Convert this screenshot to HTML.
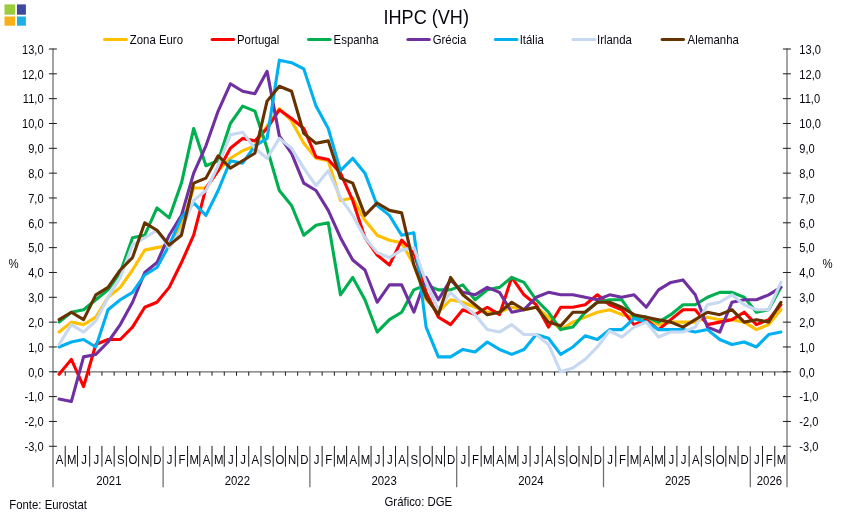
<!DOCTYPE html>
<html lang="pt"><head><meta charset="utf-8"><title>IHPC (VH)</title>
<style>
html,body{margin:0;padding:0;background:#fff;}
body{width:843px;height:518px;overflow:hidden;position:relative;font-family:"Liberation Sans",Arial,sans-serif;}
svg{position:absolute;left:0;top:0;display:block;}
text{font-family:"Liberation Sans",Arial,sans-serif;fill:#0a0610;}
.t{font-size:12px;}
.ttl{font-size:19.6px;}
.ln{fill:none;stroke-width:3.1;stroke-linejoin:round;stroke-linecap:round;}
.ax{stroke:#6e6e6e;stroke-width:1.25;fill:none;}
.tk{stroke:#1c1c1c;stroke-width:1;fill:none;}
</style></head><body>
<svg width="843" height="518" viewBox="0 0 843 518">
<rect width="843" height="518" fill="#fff"/>
<g><rect x="4.5" y="4.4" width="10.6" height="10.3" fill="#9CCB3B"/><rect x="17" y="4.4" width="8.9" height="10.3" fill="#3F48A0"/><rect x="4.5" y="16.5" width="10.6" height="9.2" fill="#F9B016"/><rect x="17" y="16.5" width="8.9" height="9.2" fill="#1EAEE8"/></g>
<text class="ttl" transform="translate(426.20 23.50) scale(0.924 1)" text-anchor="middle">IHPC (VH)</text>
<line x1="104.5" y1="39.5" x2="126.4" y2="39.5" stroke="#FFC000" stroke-width="3.1" stroke-linecap="round"/><text class="t" transform="translate(129.80 43.60) scale(0.950 1)">Zona Euro</text>
<line x1="212.2" y1="39.5" x2="233.6" y2="39.5" stroke="#FF0000" stroke-width="3.1" stroke-linecap="round"/><text class="t" transform="translate(237.00 43.60) scale(0.950 1)">Portugal</text>
<line x1="308.5" y1="39.5" x2="330.2" y2="39.5" stroke="#00B050" stroke-width="3.1" stroke-linecap="round"/><text class="t" transform="translate(333.60 43.60) scale(0.950 1)">Espanha</text>
<line x1="407.9" y1="39.5" x2="429.3" y2="39.5" stroke="#7030A0" stroke-width="3.1" stroke-linecap="round"/><text class="t" transform="translate(432.70 43.60) scale(0.950 1)">Grécia</text>
<line x1="495.4" y1="39.5" x2="516.9" y2="39.5" stroke="#00B0F0" stroke-width="3.1" stroke-linecap="round"/><text class="t" transform="translate(519.70 43.60) scale(0.950 1)">Itália</text>
<line x1="573.0" y1="39.5" x2="594.9" y2="39.5" stroke="#C6D9F1" stroke-width="3.1" stroke-linecap="round"/><text class="t" transform="translate(597.00 43.60) scale(0.950 1)">Irlanda</text>
<line x1="662.2" y1="39.5" x2="683.5" y2="39.5" stroke="#663300" stroke-width="3.1" stroke-linecap="round"/><text class="t" transform="translate(687.60 43.60) scale(0.950 1)">Alemanha</text>
<path class="ax" d="M53.00 48.5V487.2 M787.00 48.5V487.2"/>
<path class="ax" d="M53.00 371.79H787.00"/>
<text class="t" transform="translate(43.60 451.08) scale(0.925 1)" text-anchor="end">-3,0</text><text class="t" transform="translate(799.30 451.08) scale(0.925 1)">-3,0</text>
<text class="t" transform="translate(43.60 426.25) scale(0.925 1)" text-anchor="end">-2,0</text><text class="t" transform="translate(799.30 426.25) scale(0.925 1)">-2,0</text>
<text class="t" transform="translate(43.60 401.42) scale(0.925 1)" text-anchor="end">-1,0</text><text class="t" transform="translate(799.30 401.42) scale(0.925 1)">-1,0</text>
<text class="t" transform="translate(43.60 376.59) scale(0.925 1)" text-anchor="end">0,0</text><text class="t" transform="translate(799.30 376.59) scale(0.925 1)">0,0</text>
<text class="t" transform="translate(43.60 351.76) scale(0.925 1)" text-anchor="end">1,0</text><text class="t" transform="translate(799.30 351.76) scale(0.925 1)">1,0</text>
<text class="t" transform="translate(43.60 326.93) scale(0.925 1)" text-anchor="end">2,0</text><text class="t" transform="translate(799.30 326.93) scale(0.925 1)">2,0</text>
<text class="t" transform="translate(43.60 302.10) scale(0.925 1)" text-anchor="end">3,0</text><text class="t" transform="translate(799.30 302.10) scale(0.925 1)">3,0</text>
<text class="t" transform="translate(43.60 277.27) scale(0.925 1)" text-anchor="end">4,0</text><text class="t" transform="translate(799.30 277.27) scale(0.925 1)">4,0</text>
<text class="t" transform="translate(43.60 252.44) scale(0.925 1)" text-anchor="end">5,0</text><text class="t" transform="translate(799.30 252.44) scale(0.925 1)">5,0</text>
<text class="t" transform="translate(43.60 227.61) scale(0.925 1)" text-anchor="end">6,0</text><text class="t" transform="translate(799.30 227.61) scale(0.925 1)">6,0</text>
<text class="t" transform="translate(43.60 202.78) scale(0.925 1)" text-anchor="end">7,0</text><text class="t" transform="translate(799.30 202.78) scale(0.925 1)">7,0</text>
<text class="t" transform="translate(43.60 177.95) scale(0.925 1)" text-anchor="end">8,0</text><text class="t" transform="translate(799.30 177.95) scale(0.925 1)">8,0</text>
<text class="t" transform="translate(43.60 153.12) scale(0.925 1)" text-anchor="end">9,0</text><text class="t" transform="translate(799.30 153.12) scale(0.925 1)">9,0</text>
<text class="t" transform="translate(43.60 128.29) scale(0.925 1)" text-anchor="end">10,0</text><text class="t" transform="translate(799.30 128.29) scale(0.925 1)">10,0</text>
<text class="t" transform="translate(43.60 103.46) scale(0.925 1)" text-anchor="end">11,0</text><text class="t" transform="translate(799.30 103.46) scale(0.925 1)">11,0</text>
<text class="t" transform="translate(43.60 78.63) scale(0.925 1)" text-anchor="end">12,0</text><text class="t" transform="translate(799.30 78.63) scale(0.925 1)">12,0</text>
<text class="t" transform="translate(43.60 53.80) scale(0.925 1)" text-anchor="end">13,0</text><text class="t" transform="translate(799.30 53.80) scale(0.925 1)">13,0</text>
<path class="tk" d="M48.9 446.28H56.9 M782.9 446.28H790.9 M48.9 421.45H56.9 M782.9 421.45H790.9 M48.9 396.62H56.9 M782.9 396.62H790.9 M48.9 371.79H56.9 M782.9 371.79H790.9 M48.9 346.96H56.9 M782.9 346.96H790.9 M48.9 322.13H56.9 M782.9 322.13H790.9 M48.9 297.30H56.9 M782.9 297.30H790.9 M48.9 272.47H56.9 M782.9 272.47H790.9 M48.9 247.64H56.9 M782.9 247.64H790.9 M48.9 222.81H56.9 M782.9 222.81H790.9 M48.9 197.98H56.9 M782.9 197.98H790.9 M48.9 173.15H56.9 M782.9 173.15H790.9 M48.9 148.32H56.9 M782.9 148.32H790.9 M48.9 123.49H56.9 M782.9 123.49H790.9 M48.9 98.66H56.9 M782.9 98.66H790.9 M48.9 73.83H56.9 M782.9 73.83H790.9 M48.9 49.00H56.9 M782.9 49.00H790.9 M65.23 371.79v3.9 M77.47 371.79v3.9 M89.70 371.79v3.9 M101.93 371.79v3.9 M114.17 371.79v3.9 M126.40 371.79v3.9 M138.63 371.79v3.9 M150.87 371.79v3.9 M163.10 371.79v3.9 M175.33 371.79v3.9 M187.57 371.79v3.9 M199.80 371.79v3.9 M212.03 371.79v3.9 M224.27 371.79v3.9 M236.50 371.79v3.9 M248.73 371.79v3.9 M260.97 371.79v3.9 M273.20 371.79v3.9 M285.43 371.79v3.9 M297.67 371.79v3.9 M309.90 371.79v3.9 M322.13 371.79v3.9 M334.37 371.79v3.9 M346.60 371.79v3.9 M358.83 371.79v3.9 M371.07 371.79v3.9 M383.30 371.79v3.9 M395.53 371.79v3.9 M407.77 371.79v3.9 M420.00 371.79v3.9 M432.23 371.79v3.9 M444.47 371.79v3.9 M456.70 371.79v3.9 M468.93 371.79v3.9 M481.17 371.79v3.9 M493.40 371.79v3.9 M505.63 371.79v3.9 M517.87 371.79v3.9 M530.10 371.79v3.9 M542.33 371.79v3.9 M554.57 371.79v3.9 M566.80 371.79v3.9 M579.03 371.79v3.9 M591.27 371.79v3.9 M603.50 371.79v3.9 M615.73 371.79v3.9 M627.97 371.79v3.9 M640.20 371.79v3.9 M652.43 371.79v3.9 M664.67 371.79v3.9 M676.90 371.79v3.9 M689.13 371.79v3.9 M701.37 371.79v3.9 M713.60 371.79v3.9 M725.83 371.79v3.9 M738.07 371.79v3.9 M750.30 371.79v3.9 M762.53 371.79v3.9 M774.77 371.79v3.9 "/>
<path class="ax" d="M163.10 446.3V487.2 M309.90 446.3V487.2 M456.70 446.3V487.2 M603.50 446.3V487.2 M750.30 446.3V487.2 "/>
<path class="tk" d="M65.23 445.9V466.7 M77.47 445.9V466.7 M89.70 445.9V466.7 M101.93 445.9V466.7 M114.17 445.9V466.7 M126.40 445.9V466.7 M138.63 445.9V466.7 M150.87 445.9V466.7 M175.33 445.9V466.7 M187.57 445.9V466.7 M199.80 445.9V466.7 M212.03 445.9V466.7 M224.27 445.9V466.7 M236.50 445.9V466.7 M248.73 445.9V466.7 M260.97 445.9V466.7 M273.20 445.9V466.7 M285.43 445.9V466.7 M297.67 445.9V466.7 M322.13 445.9V466.7 M334.37 445.9V466.7 M346.60 445.9V466.7 M358.83 445.9V466.7 M371.07 445.9V466.7 M383.30 445.9V466.7 M395.53 445.9V466.7 M407.77 445.9V466.7 M420.00 445.9V466.7 M432.23 445.9V466.7 M444.47 445.9V466.7 M468.93 445.9V466.7 M481.17 445.9V466.7 M493.40 445.9V466.7 M505.63 445.9V466.7 M517.87 445.9V466.7 M530.10 445.9V466.7 M542.33 445.9V466.7 M554.57 445.9V466.7 M566.80 445.9V466.7 M579.03 445.9V466.7 M591.27 445.9V466.7 M615.73 445.9V466.7 M627.97 445.9V466.7 M640.20 445.9V466.7 M652.43 445.9V466.7 M664.67 445.9V466.7 M676.90 445.9V466.7 M689.13 445.9V466.7 M701.37 445.9V466.7 M713.60 445.9V466.7 M725.83 445.9V466.7 M738.07 445.9V466.7 M762.53 445.9V466.7 M774.77 445.9V466.7 "/>
<text class="t" transform="translate(59.62 463.60) scale(0.950 1)" text-anchor="middle">A</text><text class="t" transform="translate(71.85 463.60) scale(0.950 1)" text-anchor="middle">M</text><text class="t" transform="translate(84.08 463.60) scale(0.950 1)" text-anchor="middle">J</text><text class="t" transform="translate(96.32 463.60) scale(0.950 1)" text-anchor="middle">J</text><text class="t" transform="translate(108.55 463.60) scale(0.950 1)" text-anchor="middle">A</text><text class="t" transform="translate(120.78 463.60) scale(0.950 1)" text-anchor="middle">S</text><text class="t" transform="translate(133.02 463.60) scale(0.950 1)" text-anchor="middle">O</text><text class="t" transform="translate(145.25 463.60) scale(0.950 1)" text-anchor="middle">N</text><text class="t" transform="translate(157.48 463.60) scale(0.950 1)" text-anchor="middle">D</text><text class="t" transform="translate(169.72 463.60) scale(0.950 1)" text-anchor="middle">J</text><text class="t" transform="translate(181.95 463.60) scale(0.950 1)" text-anchor="middle">F</text><text class="t" transform="translate(194.18 463.60) scale(0.950 1)" text-anchor="middle">M</text><text class="t" transform="translate(206.42 463.60) scale(0.950 1)" text-anchor="middle">A</text><text class="t" transform="translate(218.65 463.60) scale(0.950 1)" text-anchor="middle">M</text><text class="t" transform="translate(230.88 463.60) scale(0.950 1)" text-anchor="middle">J</text><text class="t" transform="translate(243.12 463.60) scale(0.950 1)" text-anchor="middle">J</text><text class="t" transform="translate(255.35 463.60) scale(0.950 1)" text-anchor="middle">A</text><text class="t" transform="translate(267.58 463.60) scale(0.950 1)" text-anchor="middle">S</text><text class="t" transform="translate(279.82 463.60) scale(0.950 1)" text-anchor="middle">O</text><text class="t" transform="translate(292.05 463.60) scale(0.950 1)" text-anchor="middle">N</text><text class="t" transform="translate(304.28 463.60) scale(0.950 1)" text-anchor="middle">D</text><text class="t" transform="translate(316.52 463.60) scale(0.950 1)" text-anchor="middle">J</text><text class="t" transform="translate(328.75 463.60) scale(0.950 1)" text-anchor="middle">F</text><text class="t" transform="translate(340.98 463.60) scale(0.950 1)" text-anchor="middle">M</text><text class="t" transform="translate(353.22 463.60) scale(0.950 1)" text-anchor="middle">A</text><text class="t" transform="translate(365.45 463.60) scale(0.950 1)" text-anchor="middle">M</text><text class="t" transform="translate(377.68 463.60) scale(0.950 1)" text-anchor="middle">J</text><text class="t" transform="translate(389.92 463.60) scale(0.950 1)" text-anchor="middle">J</text><text class="t" transform="translate(402.15 463.60) scale(0.950 1)" text-anchor="middle">A</text><text class="t" transform="translate(414.38 463.60) scale(0.950 1)" text-anchor="middle">S</text><text class="t" transform="translate(426.62 463.60) scale(0.950 1)" text-anchor="middle">O</text><text class="t" transform="translate(438.85 463.60) scale(0.950 1)" text-anchor="middle">N</text><text class="t" transform="translate(451.08 463.60) scale(0.950 1)" text-anchor="middle">D</text><text class="t" transform="translate(463.32 463.60) scale(0.950 1)" text-anchor="middle">J</text><text class="t" transform="translate(475.55 463.60) scale(0.950 1)" text-anchor="middle">F</text><text class="t" transform="translate(487.78 463.60) scale(0.950 1)" text-anchor="middle">M</text><text class="t" transform="translate(500.02 463.60) scale(0.950 1)" text-anchor="middle">A</text><text class="t" transform="translate(512.25 463.60) scale(0.950 1)" text-anchor="middle">M</text><text class="t" transform="translate(524.48 463.60) scale(0.950 1)" text-anchor="middle">J</text><text class="t" transform="translate(536.72 463.60) scale(0.950 1)" text-anchor="middle">J</text><text class="t" transform="translate(548.95 463.60) scale(0.950 1)" text-anchor="middle">A</text><text class="t" transform="translate(561.18 463.60) scale(0.950 1)" text-anchor="middle">S</text><text class="t" transform="translate(573.42 463.60) scale(0.950 1)" text-anchor="middle">O</text><text class="t" transform="translate(585.65 463.60) scale(0.950 1)" text-anchor="middle">N</text><text class="t" transform="translate(597.88 463.60) scale(0.950 1)" text-anchor="middle">D</text><text class="t" transform="translate(610.12 463.60) scale(0.950 1)" text-anchor="middle">J</text><text class="t" transform="translate(622.35 463.60) scale(0.950 1)" text-anchor="middle">F</text><text class="t" transform="translate(634.58 463.60) scale(0.950 1)" text-anchor="middle">M</text><text class="t" transform="translate(646.82 463.60) scale(0.950 1)" text-anchor="middle">A</text><text class="t" transform="translate(659.05 463.60) scale(0.950 1)" text-anchor="middle">M</text><text class="t" transform="translate(671.28 463.60) scale(0.950 1)" text-anchor="middle">J</text><text class="t" transform="translate(683.52 463.60) scale(0.950 1)" text-anchor="middle">J</text><text class="t" transform="translate(695.75 463.60) scale(0.950 1)" text-anchor="middle">A</text><text class="t" transform="translate(707.98 463.60) scale(0.950 1)" text-anchor="middle">S</text><text class="t" transform="translate(720.22 463.60) scale(0.950 1)" text-anchor="middle">O</text><text class="t" transform="translate(732.45 463.60) scale(0.950 1)" text-anchor="middle">N</text><text class="t" transform="translate(744.68 463.60) scale(0.950 1)" text-anchor="middle">D</text><text class="t" transform="translate(756.92 463.60) scale(0.950 1)" text-anchor="middle">J</text><text class="t" transform="translate(769.15 463.60) scale(0.950 1)" text-anchor="middle">F</text><text class="t" transform="translate(781.38 463.60) scale(0.950 1)" text-anchor="middle">M</text>
<text class="t" transform="translate(108.85 484.90) scale(0.950 1)" text-anchor="middle">2021</text><text class="t" transform="translate(237.30 484.90) scale(0.950 1)" text-anchor="middle">2022</text><text class="t" transform="translate(384.10 484.90) scale(0.950 1)" text-anchor="middle">2023</text><text class="t" transform="translate(530.90 484.90) scale(0.950 1)" text-anchor="middle">2024</text><text class="t" transform="translate(677.70 484.90) scale(0.950 1)" text-anchor="middle">2025</text><text class="t" transform="translate(769.45 484.90) scale(0.950 1)" text-anchor="middle">2026</text>
<text class="t" transform="translate(8.60 268.00) scale(0.950 1)">%</text><text class="t" transform="translate(822.60 268.00) scale(0.950 1)">%</text>
<text class="t" transform="translate(9.20 508.80) scale(0.950 1)">Fonte: Eurostat</text><text class="t" transform="translate(384.50 505.70) scale(0.950 1)">Gráfico: DGE</text>
<polyline class="ln" stroke="#FFC000" points="59.12,332.06 71.35,322.13 83.58,324.61 95.82,317.16 108.05,297.30 120.28,287.37 132.52,269.99 144.75,250.12 156.98,247.64 169.22,245.16 181.45,225.29 193.68,188.05 205.92,188.05 218.15,170.67 230.38,158.25 242.62,150.80 254.85,145.84 267.08,125.97 279.32,108.59 291.55,121.01 303.78,143.35 316.02,158.25 328.25,160.73 340.48,200.46 352.72,197.98 364.95,220.33 377.18,235.22 389.42,240.19 401.65,242.67 413.88,265.02 426.12,299.78 438.35,312.20 450.58,299.78 462.82,302.27 475.05,307.23 487.28,312.20 499.52,312.20 511.75,307.23 523.98,309.71 536.22,307.23 548.45,317.16 560.68,329.58 572.92,322.13 585.15,317.16 597.38,312.20 609.62,309.71 621.85,314.68 634.08,317.16 646.32,317.16 658.55,324.61 670.78,322.13 683.02,322.13 695.25,322.13 707.48,317.16 719.72,319.65 731.95,319.65 744.18,322.13 756.42,329.58 768.65,324.61 780.88,309.71"/>
<polyline class="ln" stroke="#FF0000" points="59.12,374.27 71.35,359.38 83.58,386.69 95.82,344.48 108.05,339.51 120.28,339.51 132.52,327.10 144.75,307.23 156.98,302.27 169.22,287.37 181.45,262.54 193.68,235.22 205.92,188.05 218.15,170.67 230.38,148.32 242.62,138.39 254.85,140.87 267.08,128.46 279.32,109.83 291.55,118.52 303.78,128.46 316.02,157.01 328.25,159.49 340.48,173.15 352.72,200.46 364.95,237.71 377.18,255.09 389.42,265.02 401.65,240.19 413.88,252.61 426.12,292.33 438.35,317.16 450.58,324.61 462.82,309.71 475.05,314.68 487.28,307.23 499.52,314.68 511.75,277.44 523.98,294.82 536.22,304.75 548.45,327.10 560.68,307.23 572.92,307.23 585.15,304.75 597.38,294.82 609.62,304.75 621.85,309.71 634.08,324.61 646.32,319.65 658.55,329.58 670.78,319.65 683.02,309.71 695.25,309.71 707.48,324.61 719.72,322.13 731.95,319.65 744.18,312.20 756.42,324.61 768.65,319.65 780.88,304.75"/>
<polyline class="ln" stroke="#00B050" points="59.12,322.13 71.35,312.20 83.58,309.71 95.82,299.78 108.05,289.85 120.28,272.47 132.52,237.71 144.75,235.22 156.98,207.91 169.22,217.84 181.45,183.08 193.68,128.46 205.92,165.70 218.15,160.73 230.38,123.49 242.62,106.11 254.85,111.07 267.08,148.32 279.32,190.53 291.55,205.43 303.78,235.22 316.02,225.29 328.25,222.81 340.48,294.82 352.72,277.44 364.95,299.78 377.18,332.06 389.42,319.65 401.65,312.20 413.88,289.85 426.12,284.88 438.35,289.85 450.58,289.85 462.82,284.88 475.05,299.78 487.28,289.85 499.52,287.37 511.75,277.44 523.98,282.40 536.22,299.78 548.45,312.20 560.68,329.58 572.92,327.10 585.15,312.20 597.38,302.27 609.62,299.78 621.85,299.78 634.08,317.16 646.32,317.16 658.55,322.13 670.78,314.68 683.02,304.75 695.25,304.75 707.48,297.30 719.72,292.33 731.95,292.33 744.18,297.30 756.42,312.20 768.65,309.71 780.88,287.37"/>
<polyline class="ln" stroke="#7030A0" points="59.12,399.10 71.35,401.59 83.58,356.89 95.82,354.41 108.05,341.99 120.28,324.61 132.52,302.27 144.75,272.47 156.98,262.54 169.22,235.22 181.45,215.36 193.68,173.15 205.92,145.84 218.15,111.07 230.38,83.76 242.62,91.21 254.85,93.69 267.08,71.35 279.32,135.91 291.55,153.29 303.78,183.08 316.02,190.53 328.25,210.39 340.48,237.71 352.72,260.05 364.95,269.99 377.18,302.27 389.42,284.88 401.65,284.88 413.88,312.20 426.12,277.44 438.35,299.78 450.58,279.92 462.82,292.33 475.05,294.82 487.28,287.37 499.52,292.33 511.75,312.20 523.98,309.71 536.22,297.30 548.45,292.33 560.68,294.82 572.92,294.82 585.15,297.30 597.38,299.78 609.62,294.82 621.85,297.30 634.08,294.82 646.32,307.23 658.55,289.85 670.78,282.40 683.02,279.92 695.25,294.82 707.48,327.10 719.72,332.06 731.95,302.27 744.18,299.78 756.42,299.78 768.65,294.82 780.88,287.37"/>
<polyline class="ln" stroke="#00B0F0" points="59.12,346.96 71.35,341.99 83.58,339.51 95.82,346.96 108.05,309.71 120.28,299.78 132.52,292.33 144.75,274.95 156.98,267.50 169.22,245.16 181.45,217.84 193.68,202.95 205.92,215.36 218.15,190.53 230.38,160.73 242.62,163.22 254.85,145.84 267.08,138.39 279.32,60.17 291.55,62.66 303.78,68.86 316.02,106.11 328.25,128.46 340.48,170.67 352.72,158.25 364.95,173.15 377.18,205.43 389.42,215.36 401.65,235.22 413.88,232.74 426.12,327.10 438.35,356.89 450.58,356.89 462.82,349.44 475.05,351.93 487.28,341.99 499.52,349.44 511.75,354.41 523.98,349.44 536.22,334.54 548.45,338.27 560.68,354.41 572.92,346.96 585.15,335.79 597.38,339.51 609.62,329.58 621.85,329.58 634.08,318.41 646.32,322.13 658.55,329.58 670.78,329.58 683.02,329.58 695.25,332.06 707.48,329.58 719.72,339.51 731.95,344.48 744.18,341.99 756.42,346.96 768.65,334.54 780.88,332.06"/>
<polyline class="ln" stroke="#C6D9F1" points="59.12,344.48 71.35,324.61 83.58,332.06 95.82,320.89 108.05,297.30 120.28,277.44 132.52,245.16 144.75,237.71 156.98,230.26 169.22,247.64 181.45,230.26 193.68,200.46 205.92,190.53 218.15,165.70 230.38,134.66 242.62,132.18 254.85,148.32 267.08,158.25 279.32,138.39 291.55,148.32 303.78,168.18 316.02,185.56 328.25,170.67 340.48,197.98 352.72,215.36 364.95,237.71 377.18,252.61 389.42,257.57 401.65,250.12 413.88,247.64 426.12,282.40 438.35,309.71 450.58,292.33 462.82,304.75 475.05,314.68 487.28,329.58 499.52,332.06 511.75,324.61 523.98,334.54 536.22,334.54 548.45,344.48 560.68,371.79 572.92,368.07 585.15,359.38 597.38,346.96 609.62,330.82 621.85,337.03 634.08,327.10 646.32,322.13 658.55,337.03 670.78,332.06 683.02,332.06 695.25,327.10 707.48,304.75 719.72,302.27 731.95,294.82 744.18,304.75 756.42,309.71 768.65,309.71 780.88,282.40"/>
<polyline class="ln" stroke="#663300" points="59.12,319.65 71.35,312.20 83.58,319.65 95.82,294.82 108.05,287.37 120.28,269.99 132.52,257.57 144.75,222.81 156.98,230.26 169.22,245.16 181.45,235.22 193.68,183.08 205.92,178.12 218.15,155.77 230.38,168.18 242.62,160.73 254.85,153.29 267.08,101.14 279.32,86.25 291.55,91.21 303.78,133.42 316.02,143.35 328.25,140.87 340.48,178.12 352.72,183.08 364.95,215.36 377.18,202.95 389.42,210.39 401.65,212.88 413.88,265.02 426.12,297.30 438.35,314.68 450.58,277.44 462.82,294.82 475.05,304.75 487.28,314.68 499.52,312.20 511.75,302.27 523.98,309.71 536.22,307.23 548.45,322.13 560.68,325.85 572.92,312.20 585.15,312.20 597.38,302.27 609.62,302.27 621.85,307.23 634.08,314.68 646.32,317.16 658.55,319.65 670.78,322.13 683.02,327.10 695.25,319.65 707.48,312.20 719.72,314.68 731.95,309.71 744.18,322.13 756.42,319.65 768.65,322.13 780.88,302.27"/>
</svg>
</body></html>
